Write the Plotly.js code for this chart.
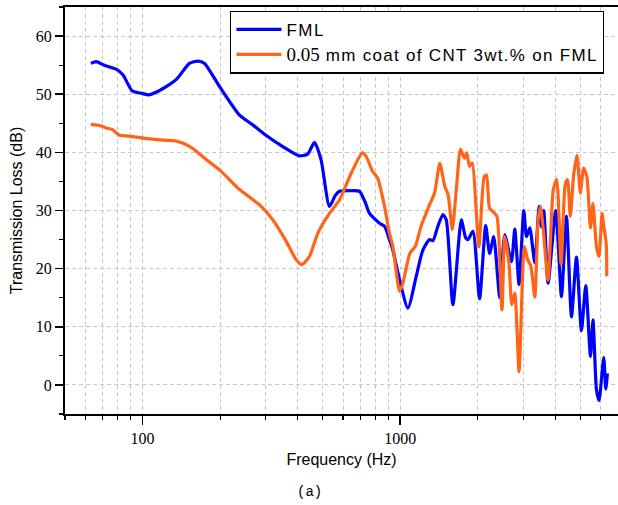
<!DOCTYPE html>
<html>
<head>
<meta charset="utf-8">
<script src="https://cdn.plot.ly/plotly-3.0.1.min.js"></script>
<style>html,body{margin:0;padding:0;background:#fff;}#chart{width:618px;height:505px;}</style>
</head>
<body>
<div id="chart"></div>
<script>
// Frequency (Hz) and transmission loss (dB)
const fmlFreq = [63, 66, 71, 79, 84, 91, 98, 106, 116, 135, 152, 164, 174, 199, 238, 270, 302, 350, 406, 437, 465, 493, 531, 560, 581, 640, 695, 730, 760, 831, 869, 908, 936, 994, 1071, 1154, 1224, 1300, 1339, 1400, 1464, 1509, 1601, 1726, 1794, 1830, 1915, 2032, 2146, 2223, 2306, 2434, 2544, 2702, 2783, 2891, 3016, 3090, 3183, 3328, 3458, 3532, 3606, 3747, 4013, 4223, 4416, 4619, 4830, 5049, 5248, 5473, 5598, 5774, 5908, 6163, 6275, 6368];
const fmlTL = [55.3, 55.6, 55.0, 54.3, 53.3, 50.6, 50.2, 49.9, 50.6, 52.5, 55.3, 55.7, 55.3, 51.3, 46.4, 44.6, 42.9, 41.0, 39.4, 39.7, 41.7, 38.7, 30.7, 32.6, 33.3, 33.4, 33.3, 31.5, 29.5, 27.8, 27.3, 25.0, 23.2, 18.1, 13.2, 18.7, 23.2, 25.0, 24.8, 27.3, 29.3, 28.4, 13.8, 28.4, 25.3, 25.0, 26.4, 14.8, 27.4, 22.6, 25.5, 15.0, 25.8, 21.2, 26.8, 17.3, 30.0, 25.5, 27.0, 21.0, 30.7, 27.2, 30.0, 17.5, 30.0, 15.2, 29.0, 11.7, 22.0, 9.3, 17.1, 4.9, 11.2, -0.8, -2.7, 4.7, -0.7, 2.0];

const cntFreq = [63, 69, 72, 76.5, 81, 89, 103, 120, 133, 143, 156, 174, 200, 238, 284, 320, 361, 395, 416, 444, 479, 531, 581, 645, 712, 737, 782, 817, 869, 908, 936, 994, 1024, 1091, 1143, 1205, 1300, 1359, 1424, 1490, 1534, 1592, 1654, 1713, 1776, 1812, 1856, 1901, 2020, 2117, 2162, 2220, 2290, 2372, 2482, 2544, 2642, 2710, 2783, 2891, 2979, 3032, 3124, 3212, 3328, 3431, 3500, 3585, 3747, 3927, 4048, 4210, 4366, 4459, 4571, 4710, 4852, 5000, 5146, 5300, 5473, 5598, 5774, 5908, 6073, 6163, 6299, 6333];
const cntTL = [44.8, 44.55, 44.2, 43.9, 43.0, 42.8, 42.4, 42.1, 42.0, 41.6, 40.7, 39.0, 36.9, 33.6, 31.0, 28.4, 24.7, 21.5, 20.7, 22.1, 26.1, 29.5, 31.8, 36.4, 39.9, 39.3, 36.7, 35.6, 30.7, 26.1, 23.8, 16.1, 17.5, 22.7, 23.8, 27.3, 31.0, 33.0, 38.1, 34.1, 32.7, 26.7, 34.1, 40.5, 39.0, 39.9, 37.6, 38.2, 23.8, 35.8, 36.1, 30.4, 29.8, 29.0, 12.9, 25.5, 21.0, 13.8, 15.8, 2.3, 18.1, 23.8, 21.5, 20.5, 15.1, 28.5, 30.7, 27.0, 18.0, 33.6, 35.3, 20.8, 34.4, 35.3, 29.0, 36.1, 39.5, 33.0, 37.3, 35.8, 27.0, 31.2, 23.8, 22.1, 29.5, 27.3, 24.4, 18.7];

const seriesNames = [
  '<span style="letter-spacing:1.5px">FML</span>',
  '<span style="font-family:\'Liberation Serif\';font-size:19px">0.05</span><span style="letter-spacing:1.3px"> mm coat of CNT 3wt.% on FML</span>'
];
const xMajorTicks = [100, 1000];
const xMajorLabels = ['100', '1000'];
const xMinorTicks = [50, 60, 70, 80, 90, 200, 300, 400, 500, 600, 700, 800, 900, 2000, 3000, 4000, 5000, 6000];

const traces = [
  {x: fmlFreq, y: fmlTL, name: seriesNames[0], type: 'scatter', mode: 'lines',
   line: {color: '#0000FF', width: 3.2, shape: 'spline', smoothing: 0.6}},
  {x: cntFreq, y: cntTL, name: seriesNames[1], type: 'scatter', mode: 'lines',
   line: {color: '#FF6418', width: 3.2, shape: 'spline', smoothing: 0.6}}
];

const gridCol = '#C8C8C8';
const layout = {
  width: 618, height: 505,
  margin: {l: 65, r: 0, t: 6.5, b: 91},
  paper_bgcolor: '#fff', plot_bgcolor: '#fff',
  showlegend: true,
  legend: {x: 0.975, y: 0.9914, xanchor: 'right', yanchor: 'top',
    bordercolor: '#000', borderwidth: 1.3, bgcolor: '#fff',
    font: {family: 'Liberation Sans, Arial, sans-serif', size: 17, color: '#000'},
    itemwidth: 45, tracegroupgap: 0},
  xaxis: {
    type: 'log', range: [Math.log10(50), Math.log10(7000)],
    tickmode: 'array', tickvals: xMajorTicks, ticktext: xMajorLabels,
    ticks: 'outside', ticklen: 9, tickwidth: 1.5, tickcolor: '#000',
    showline: true, linecolor: '#000', linewidth: 2, mirror: true,
    showgrid: true, gridcolor: gridCol, gridwidth: 1, griddash: '4px,3px',
    zeroline: false,
    tickfont: {family: 'Liberation Serif, Times New Roman, serif', size: 16, color: '#000'},
    minor: {tickmode: 'array', tickvals: xMinorTicks, ticks: 'outside', ticklen: 4, tickwidth: 1.2, tickcolor: '#000',
      showgrid: true, gridcolor: gridCol, gridwidth: 1, griddash: '4px,3px'},
    title: {text: 'Frequency (Hz)', font: {family: 'Liberation Sans, Arial, sans-serif', size: 16, color: '#000'}, standoff: 8}
  },
  yaxis: {
    range: [-5, 65], tickmode: 'linear', tick0: 0, dtick: 10,
    ticks: 'outside', ticklen: 8, tickwidth: 1.5, tickcolor: '#000',
    showline: true, linecolor: '#000', linewidth: 2, mirror: false,
    showgrid: true, gridcolor: gridCol, gridwidth: 1, griddash: '4px,3px',
    zeroline: false,
    tickfont: {family: 'Liberation Serif, Times New Roman, serif', size: 16, color: '#000'},
    minor: {tickmode: 'linear', tick0: 5, dtick: 10, ticks: 'outside', ticklen: 4, tickwidth: 1.2, tickcolor: '#000', showgrid: false},
    title: {text: 'Transmission Loss (dB)', font: {family: 'Liberation Sans, Arial, sans-serif', size: 16, color: '#000'}, standoff: 9}
  },
  annotations: [{text: '(a)', xref: 'paper', yref: 'paper', x: 0.443, y: -0.191,
    xanchor: 'center', yanchor: 'middle', showarrow: false,
    font: {family: 'Liberation Mono, Courier New, monospace', size: 14, color: '#000'}}]
};

Plotly.newPlot('chart', traces, layout, {displayModeBar: false, staticPlot: true});
</script>
</body>
</html>
